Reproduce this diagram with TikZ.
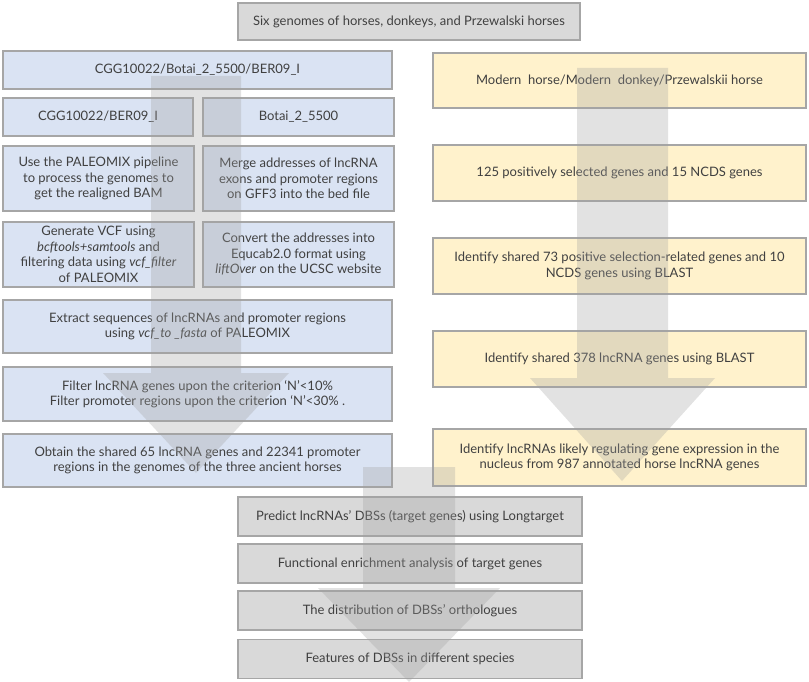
\documentclass[tikz,border=0pt]{standalone}
\usepackage{fontspec}
\setmainfont{Lato}
\definecolor{bluebox}{RGB}{218,227,243}
\definecolor{yellowbox}{RGB}{255,242,204}
\definecolor{graybox}{RGB}{217,217,217}
\definecolor{boxline}{RGB}{166,166,166}
\definecolor{txt}{RGB}{64,64,64}
\definecolor{arrowgray}{RGB}{160,160,160}
\begin{document}
\begin{tikzpicture}[x=1pt,y=-1pt,
  box/.style={draw=boxline, line width=1.3pt, rectangle, inner sep=0pt, align=center,
    text=txt, font=\fontsize{13}{15.5}\selectfont},
  bluenode/.style={box, fill=bluebox},
  yellownode/.style={box, fill=yellowbox},
  graynode/.style={box, fill=graybox},
  bigarrow/.style={fill=arrowgray, fill opacity=0.3, draw=none}]
\useasboundingbox (0,0) rectangle (809,682);
% top
\node[graynode, minimum width=342pt, minimum height=37pt] (top) at (409,21.5) {Six genomes of horses, donkeys, and Przewalski horses};
% left column
\node[bluenode, minimum width=389pt, minimum height=38pt] (l1) at (197.5,70) {CGG10022/Botai\_2\_5500/BER09\_I};
\node[bluenode, minimum width=190pt, minimum height=38pt] (l2a) at (98,117) {CGG10022/BER09\_I};
\node[bluenode, minimum width=191pt, minimum height=38pt] (l2b) at (298.5,117) {Botai\_2\_5500};
\node[bluenode, minimum width=191pt, minimum height=65pt] (l3a) at (98.5,178.5) {Use the PALEOMIX pipeline\\to process the genomes to\\get the realigned BAM};
\node[bluenode, minimum width=191pt, minimum height=65pt] (l3b) at (298.5,178.5) {Merge addresses of lncRNA\\exons and promoter regions\\on GFF3 into the bed file};
\node[bluenode, minimum width=191pt, minimum height=65pt] (l4a) at (98.5,254.5) {Generate VCF using\\\textit{bcftools+samtools} and\\filtering data using \textit{vcf\_filter}\\of PALEOMIX};
\node[bluenode, minimum width=191pt, minimum height=65pt] (l4b) at (298.5,254.5) {Convert the addresses into\\Equcab2.0 format using\\\textit{liftOver} on the UCSC website};
\node[bluenode, minimum width=389pt, minimum height=53pt] (l5) at (197.5,326.5) {Extract sequences of lncRNAs and promoter regions\\using \textit{vcf\_to \_fasta} of PALEOMIX};
\node[bluenode, minimum width=389pt, minimum height=54pt] (l6) at (197.5,394) {Filter lncRNA genes upon the criterion ‘N’<10\%\\Filter promoter regions upon the criterion ‘N’<30\% .};
\node[bluenode, minimum width=389pt, minimum height=53pt] (l7) at (197.5,460.5) {Obtain the shared 65 lncRNA genes and 22341 promoter\\regions in the genomes of the three ancient horses};
% right column
\node[yellownode, minimum width=373pt, minimum height=55pt] (r1) at (619.5,80.5) {Modern\ \ horse/Modern\ \ donkey/Przewalskii horse};
\node[yellownode, minimum width=373pt, minimum height=56pt] (r2) at (619.5,173) {125 positively selected genes and 15 NCDS genes};
\node[yellownode, minimum width=373pt, minimum height=56pt] (r3) at (619.5,266) {Identify shared 73 positive selection-related genes and 10\\NCDS genes using BLAST};
\node[yellownode, minimum width=373pt, minimum height=56pt] (r4) at (619.5,359) {Identify shared 378 lncRNA genes using BLAST};
\node[yellownode, minimum width=373pt, minimum height=57pt] (r5) at (619.5,457.5) {Identify lncRNAs likely regulating gene expression in the\\nucleus from 987 annotated horse lncRNA genes};
% bottom
\node[graynode, minimum width=344pt, minimum height=39pt] (b1) at (410,516.5) {Predict lncRNAs’ DBSs (target genes) using Longtarget};
\node[graynode, minimum width=344pt, minimum height=39pt] (b2) at (410,563.5) {Functional enrichment analysis of target genes};
\node[graynode, minimum width=344pt, minimum height=39pt] (b3) at (410,610.5) {The distribution of DBSs’ orthologues};
\node[graynode, minimum width=344pt, minimum height=39pt] (b4) at (410,659) {Features of DBSs in different species};
% big translucent arrows
\fill[bigarrow] (151,76) -- (241,76) -- (241,373) -- (289,373) -- (196,473) -- (103,373) -- (151,373) -- cycle;
\fill[bigarrow] (577,68) -- (668,68) -- (668,378) -- (715,378) -- (622,481) -- (530,378) -- (577,378) -- cycle;
\fill[bigarrow] (363,467) -- (455,467) -- (455,588) -- (500,588) -- (409,682) -- (318,588) -- (363,588) -- cycle;
\end{tikzpicture}
\end{document}
